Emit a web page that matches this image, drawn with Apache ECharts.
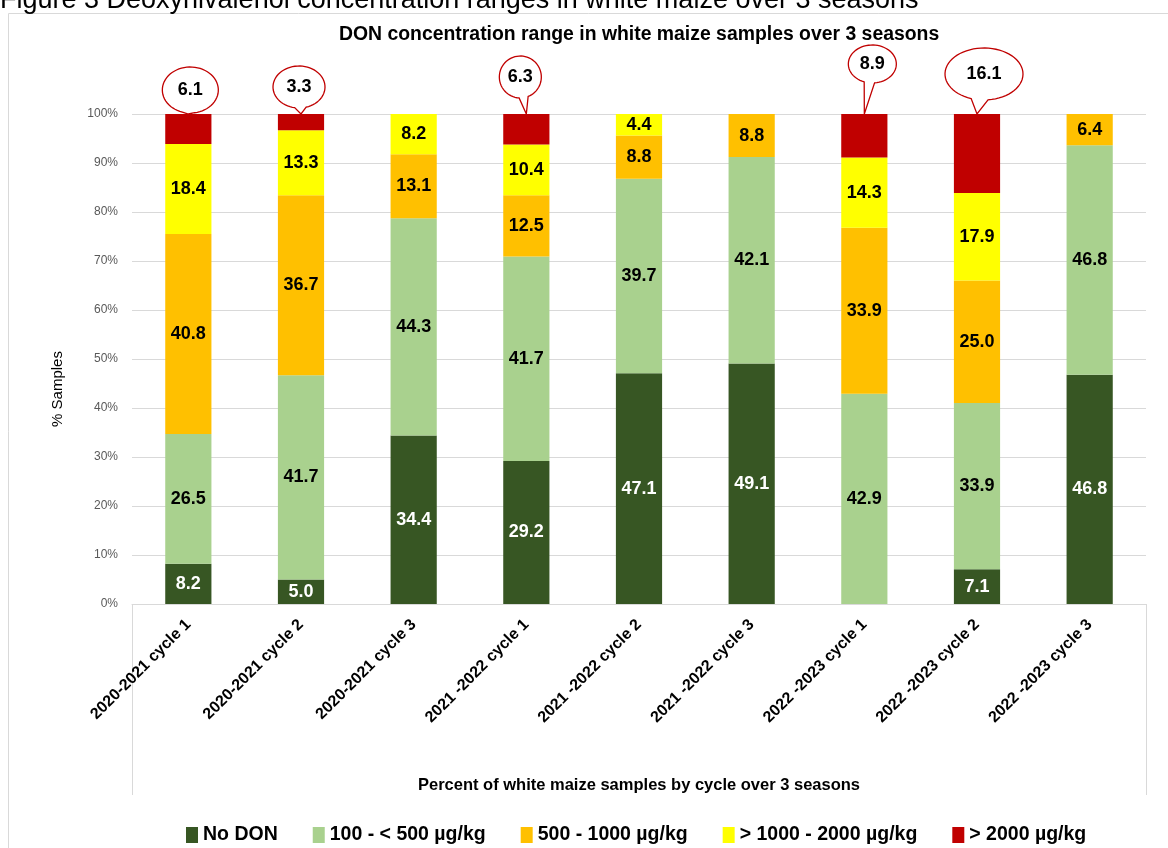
<!DOCTYPE html>
<html>
<head>
<meta charset="utf-8">
<script src="https://cdn.jsdelivr.net/npm/echarts@6/dist/echarts.min.js"></script>
<style>
  html, body { margin: 0; padding: 0; background: #fff; }
  #chart { width: 1168px; height: 848px; }
</style>
</head>
<body>
<div id="chart"></div>
<script>
// data (% of samples per cycle)
const categories = [
    '2020-2021 cycle 1', '2020-2021 cycle 2', '2020-2021 cycle 3',
    '2021 -2022 cycle 1', '2021 -2022 cycle 2', '2021 -2022 cycle 3',
    '2022 -2023 cycle 1', '2022 -2023 cycle 2', '2022 -2023 cycle 3'
];
const seriesNames = ['No DON', '100 - < 500 µg/kg', '500 - 1000 µg/kg', '> 1000 - 2000 µg/kg', '> 2000 µg/kg'];
const noDon      = [8.2, 5.0, 34.4, 29.2, 47.1, 49.1, 0, 7.1, 46.8];
const low        = [26.5, 41.7, 44.3, 41.7, 39.7, 42.1, 42.9, 33.9, 46.8];
const mid        = [40.8, 36.7, 13.1, 12.5, 8.8, 8.8, 33.9, 25.0, 6.4];
const high       = [18.4, 13.3, 8.2, 10.4, 4.4, 0, 14.3, 17.9, 0];
const over2000   = [6.1, 3.3, 0, 6.3, 0, 0, 8.9, 16.1, 0];
const yTicks = [0, 10, 20, 30, 40, 50, 60, 70, 80, 90, 100];

const colors = ['#375623', '#a9d18e', '#ffc000', '#ffff00', '#c00000'];
const labelColors = ['#fff', '#000', '#000', '#000', '#000'];

// callout bubble placement relative to top of the bar: [dx, dy, rx, ry]
const calloutShape = {
    0: [2, -24, 28, 23],
    1: [-2, -27, 26, 21],
    3: [-6, -37, 21, 21],
    6: [8, -50, 24, 19],
    7: [7, -40, 39, 26]
};

let myChart = echarts.init(document.getElementById('chart'));
const font = 'Liberation Sans, Arial, sans-serif';

function barSeries(name, data, i) {
    return {
        name: name,
        type: 'bar',
        stack: 'all',
        barWidth: '41%',
        data: data,
        itemStyle: { color: colors[i] },
        label: {
            show: i < 4,
            position: 'inside',
            color: labelColors[i],
            fontFamily: font,
            fontWeight: 'bold',
            fontSize: 18,
            formatter: p => (p.value > 0 ? p.value.toFixed(1) : '')
        }
    };
}

const stacks = [noDon, low, mid, high, over2000];

let option = {
    animation: false,
    color: colors,
    textStyle: { fontFamily: font },
    title: {
        text: 'DON concentration range in white maize samples over 3 seasons',
        left: 334,
        top: 20,
        textStyle: { fontFamily: font, fontSize: 19.4, fontWeight: 'bold', color: '#000' }
    },
    legend: {
        data: seriesNames,
        top: 820,
        left: 181,
        icon: 'rect',
        itemWidth: 12,
        itemHeight: 16,
        itemGap: 35,
        textStyle: { fontFamily: font, fontSize: 19.5, fontWeight: 'bold', color: '#000' }
    },
    grid: {
        left: 132,
        right: 22,
        top: 114,
        bottom: 244,
        containLabel: false
    },
    xAxis: {
        type: 'category',
        data: categories,
        name: 'Percent of white maize samples by cycle over 3 seasons',
        nameLocation: 'middle',
        nameGap: 173,
        nameTextStyle: { fontFamily: font, fontSize: 16.5, fontWeight: 'bold', color: '#000' },
        axisTick: { show: false },
        axisLine: { lineStyle: { color: '#d9d9d9' } },
        axisLabel: {
            interval: 0,
            rotate: 45,
            margin: 18,
            color: '#000',
            fontFamily: font,
            fontSize: 16,
            fontWeight: 'bold'
        }
    },
    yAxis: {
        type: 'value',
        min: yTicks[0],
        max: yTicks[yTicks.length - 1],
        interval: 10,
        axisLabel: { formatter: '{value}%', color: '#595959', fontSize: 12, margin: 14 },
        axisLine: { show: false },
        axisTick: { show: false },
        splitLine: { lineStyle: { color: '#d9d9d9' } }
    },
    graphic: [
        {   // outer chart border
            type: 'rect',
            shape: { x: 8.5, y: 13.5, width: 1180, height: 900 },
            style: { fill: 'none', stroke: '#d9d9d9', lineWidth: 1 },
            silent: true
        },
        {
            type: 'line',
            shape: { x1: 132.5, y1: 604, x2: 132.5, y2: 795 },
            style: { stroke: '#d9d9d9', lineWidth: 1 }
        },
        {
            type: 'line',
            shape: { x1: 1146.5, y1: 604, x2: 1146.5, y2: 795 },
            style: { stroke: '#d9d9d9', lineWidth: 1 }
        },
        {   // y axis title, sits below the middle of the plot
            type: 'text',
            x: 58,
            y: 389,
            rotation: Math.PI / 2,
            style: {
                text: '% Samples',
                fontFamily: font,
                fontSize: 15,
                fill: '#000',
                align: 'center',
                verticalAlign: 'middle'
            }
        },
        {   // caption cut off at the top of the picture
            type: 'text',
            left: 0,
            top: -13,
            style: {
                text: 'Figure 3 Deoxynivalenol concentration ranges in white maize over 3 seasons',
                fontFamily: font,
                fontSize: 27,
                fill: '#000'
            }
        }
    ],
    series: seriesNames.map((n, i) => barSeries(n, stacks[i], i)).concat([
        {
            name: 'callouts',
            type: 'custom',
            z: 10,
            data: over2000.map((v, i) => [i, Math.min(100, stacks.reduce((s, a) => s + a[i], 0)), v]),
            renderItem: function (params, api) {
                const idx = api.value(0);
                const v = api.value(2);
                const shp = calloutShape[idx];
                if (!(v > 0) || !shp) return null;
                const tip = api.coord([idx, api.value(1)]);
                const cx = tip[0] + shp[0], cy = tip[1] + shp[1];
                const rx = shp[2], ry = shp[3];
                const a0 = Math.atan2((tip[1] - cy) / ry, (tip[0] - cx) / rx);
                const gap = 0.22;
                const pts = [];
                const n = 60;
                for (let k = 0; k <= n; k++) {
                    const a = a0 + gap + (2 * Math.PI - 2 * gap) * k / n;
                    pts.push([cx + rx * Math.cos(a), cy + ry * Math.sin(a)]);
                }
                pts.push([tip[0], tip[1]]);
                return {
                    type: 'group',
                    children: [
                        {
                            type: 'polygon',
                            shape: { points: pts },
                            style: { fill: '#fff', stroke: '#c00000', lineWidth: 1.3 }
                        },
                        {
                            type: 'text',
                            x: cx,
                            y: cy,
                            style: {
                                text: v.toFixed(1),
                                fontFamily: font,
                                fontWeight: 'bold',
                                fontSize: 18,
                                fill: '#000',
                                align: 'center',
                                verticalAlign: 'middle'
                            }
                        }
                    ]
                };
            }
        }
    ])
};
myChart.setOption(option);
</script>
</body>
</html>
